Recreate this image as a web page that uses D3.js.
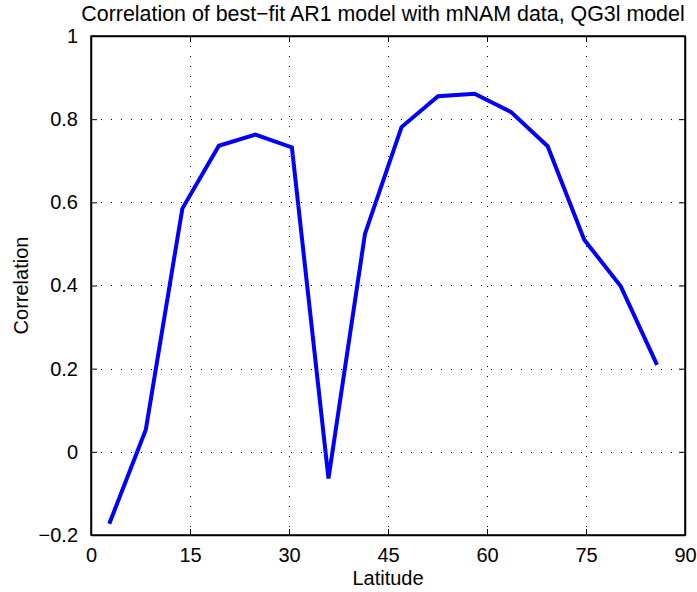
<!DOCTYPE html>
<html>
<head>
<meta charset="utf-8">
<script src="https://cdn.jsdelivr.net/npm/d3@7"></script>
<style>
  body { margin: 0; background: #fff; }
  text { font-family: "Liberation Sans", Arial, sans-serif; fill: #000; }
</style>
</head>
<body>
<div id="chart"></div>
<script>
// Gaussian latitudes (northern hemisphere)
const latitudes = [2.77, 8.30, 13.84, 19.37, 24.91, 30.44, 35.98, 41.51,
                   47.05, 52.58, 58.12, 63.66, 69.19, 74.73, 80.27, 85.76];
const correlations = [-0.173, 0.053, 0.585, 0.736, 0.763, 0.732, -0.064, 0.524,
                      0.781, 0.855, 0.861, 0.817, 0.735, 0.510, 0.398, 0.209];
const xTicks = [0, 15, 30, 45, 60, 75, 90];
const yTicks = [-0.2, 0, 0.2, 0.4, 0.6, 0.8, 1];

const W = 697, H = 592;
const margin = { top: 36, right: 12, bottom: 57, left: 91 };
const width = W - margin.left - margin.right;
const height = H - margin.top - margin.bottom;

const svg = d3.select("#chart").append("svg")
    .attr("width", W)
    .attr("height", H);

const g = svg.append("g")
    .attr("transform", `translate(${margin.left},${margin.top})`);

const x = d3.scaleLinear().domain([0, 90]).range([0, width]);
const y = d3.scaleLinear().domain([-0.2, 1]).range([height, 0]);

// dotted grid
g.append("g").selectAll("line.vg")
    .data(xTicks.slice(1, -1))
    .join("line")
    .attr("x1", d => Math.round(x(d)) + 0.5).attr("x2", d => Math.round(x(d)) + 0.5)
    .attr("y1", 0).attr("y2", height)
    .attr("stroke", "#000").attr("stroke-width", 1)
    .attr("stroke-dasharray", "1,9");

g.append("g").selectAll("line.hg")
    .data(yTicks.slice(1, -1))
    .join("line")
    .attr("y1", d => Math.round(y(d)) + 0.5).attr("y2", d => Math.round(y(d)) + 0.5)
    .attr("x1", 0).attr("x2", width)
    .attr("stroke", "#000").attr("stroke-width", 1)
    .attr("stroke-dasharray", "1,9");

// axes (ticks pointing inward, mirrored on the opposite sides)
const tickLen = 6;
const fontSize = "20px";

g.append("g")
    .attr("transform", `translate(0,${height})`)
    .call(d3.axisBottom(x).tickValues(xTicks).tickSizeInner(-tickLen).tickSizeOuter(0).tickPadding(13));
g.append("g")
    .call(d3.axisTop(x).tickValues(xTicks).tickSizeInner(-tickLen).tickSizeOuter(0).tickFormat(""));

g.append("g")
    .call(d3.axisLeft(y).tickValues(yTicks).tickSizeInner(-tickLen).tickSizeOuter(0).tickPadding(13)
        .tickFormat(d => d < 0 ? "\u2212" + Math.abs(d) : d3.format("")(d)));
g.append("g")
    .attr("transform", `translate(${width},0)`)
    .call(d3.axisRight(y).tickValues(yTicks).tickSizeInner(-tickLen).tickSizeOuter(0).tickFormat(""));

g.selectAll(".domain").attr("stroke", "#000").attr("stroke-width", 1.5);
g.selectAll(".tick line").attr("stroke", "#000");
g.selectAll(".tick text")
    .style("font-family", "'Liberation Sans', Arial, sans-serif")
    .style("font-size", fontSize)
    .attr("fill", "#000");

// box frame
g.append("rect")
    .attr("x", 0).attr("y", 0)
    .attr("width", width).attr("height", height)
    .attr("fill", "none").attr("stroke", "#000").attr("stroke-width", 1.5);

// data line
const line = d3.line()
    .x((d, i) => x(latitudes[i]))
    .y(d => y(d));

g.append("path")
    .datum(correlations)
    .attr("d", line)
    .attr("fill", "none")
    .attr("stroke", "#0000ff")
    .attr("stroke-width", 4)
    .attr("stroke-linejoin", "miter");

// labels
svg.append("text")
    .attr("x", margin.left + width / 2 - 5)
    .attr("y", 21)
    .attr("text-anchor", "middle")
    .style("font-size", "21.4px")
    .text("Correlation of best\u2212fit AR1 model with mNAM data, QG3l model");

svg.append("text")
    .attr("x", margin.left + width / 2)
    .attr("y", 585)
    .attr("text-anchor", "middle")
    .style("font-size", fontSize)
    .text("Latitude");

svg.append("text")
    .attr("transform", `translate(28,${margin.top + height / 2}) rotate(-90)`)
    .attr("text-anchor", "middle")
    .style("font-size", fontSize)
    .text("Correlation");
</script>
</body>
</html>
